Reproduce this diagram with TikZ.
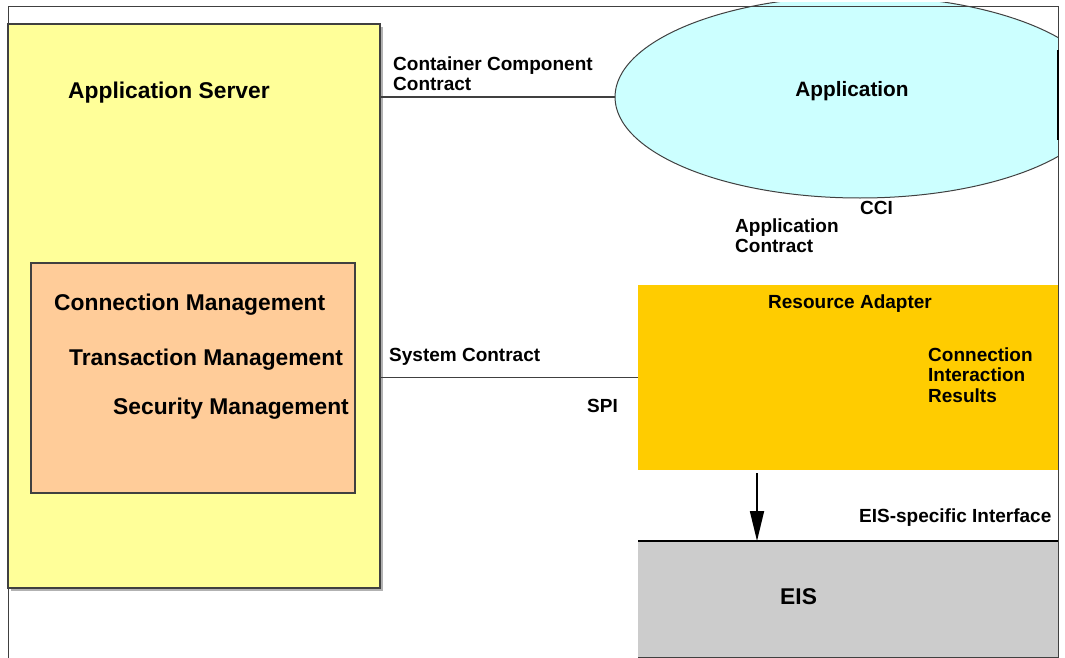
\documentclass[tikz,border=0pt]{standalone}
\usepackage{fontspec}
\setmainfont{Liberation Sans}
\usetikzlibrary{shapes.geometric,arrows.meta}

\definecolor{srvyellow}{HTML}{FFFF99}
\definecolor{mgmtpeach}{HTML}{FFCC99}
\definecolor{appcyan}{HTML}{CCFFFF}
\definecolor{raorange}{HTML}{FFCC00}
\definecolor{eisgray}{HTML}{CCCCCC}
\definecolor{edgegray}{HTML}{404040}

\tikzset{
  biglbl/.style={anchor=west,inner sep=0pt,font=\fontsize{22.8}{24}\selectfont\bfseries},
  smalllbl/.style={anchor=west,inner sep=0pt,align=left,font=\fontsize{19}{20.3}\selectfont\bfseries},
  box/.style={anchor=north west,inner sep=0pt,outer sep=0pt}
}

\begin{document}
\begin{tikzpicture}[x=1pt,y=-1pt]
\useasboundingbox (0,0) rectangle (1065,658);

% application server
\fill[gray!60] (11,27) rectangle (383,591);
\node[box,draw=edgegray,line width=1.2pt,fill=srvyellow,minimum width=372pt,minimum height=564pt] (srv) at (8,24) {};
\node[biglbl] (srvlbl) at (68,93) {Application Server};
\node[box,draw=edgegray,line width=1.5pt,fill=mgmtpeach,minimum width=324pt,minimum height=230pt] (mgmt) at (31,263) {};
\node[biglbl] (conn) at (54,305) {Connection Management};
\node[biglbl] (trans) at (69,360) {Transaction Management};
\node[biglbl] (sec) at (113,409) {Security Management};

% application
\begin{scope}
\clip (0,3) rectangle (1058,658);
\node[ellipse,draw=edgegray,line width=1pt,fill=appcyan,minimum width=490pt,minimum height=202pt,inner sep=0pt] (app) at (860,97) {};
\end{scope}
\node[biglbl,anchor=center,font=\fontsize{20.8}{22}\selectfont\bfseries] (applbl) at (852,91) {Application};

% resource adapter and eis
\node[box,fill=raorange,minimum width=420pt,minimum height=185pt] (ra) at (638,285) {};
\node[smalllbl] (ralbl) at (768,304) {Resource Adapter};
\node[smalllbl] (cci3) at (928,375) {Connection\\Interaction\\Results};
\node[box,fill=eisgray,minimum width=420pt,minimum height=116pt] (eis) at (638,541) {};
\draw[line width=2.5pt] (eis.north west) -- (eis.north east);
\draw[edgegray,line width=1pt] (eis.south west) -- (eis.south east);
\node[biglbl] (eislbl) at (780,597) {EIS};

% frame
\draw[edgegray,line width=1pt] (8,658) -- (8,7) -- (1058,7) -- (1058,658);
\draw[line width=2.5pt] (1058,50) -- (1058,140);

% contracts
\draw[edgegray,line width=1.2pt] (srv.east |- app.west) -- (app.west);
\node[smalllbl] (cccl) at (393,74) {Container Component\\Contract};
\draw[edgegray,line width=1.2pt] (srv.east |- ra.west) -- (ra.west);
\node[smalllbl] (syslbl) at (389,357) {System Contract};
\node[smalllbl] (spi) at (587,406) {SPI};
\node[smalllbl] (cci) at (860,208) {CCI};
\node[smalllbl] (appct) at (735,236) {Application\\Contract};

\coordinate (arrx) at (757,0);
\draw[line width=1.8pt,-{Triangle[length=30pt,width=14pt]}] (ra.south -| arrx) ++(0,3) -- (eis.north -| arrx);
\node[smalllbl] (eisif) at (859,518) {EIS-specific Interface};
\end{tikzpicture}
\end{document}
